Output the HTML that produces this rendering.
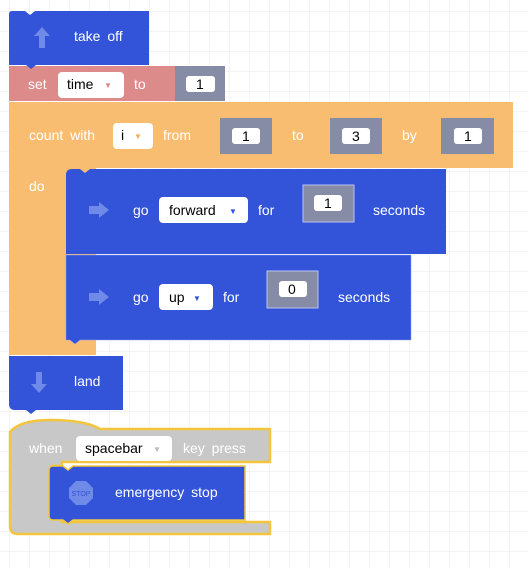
<!DOCTYPE html>
<html><head><meta charset="utf-8"><style>
body{margin:0;width:529px;height:568px;overflow:hidden;background:#fff;}
svg{display:block}
text{font-family:"Liberation Sans",sans-serif;font-size:14px;word-spacing:3px}
.w{fill:#fff}
.b{fill:#000}
.a{font-size:8px}
</style></head><body>
<svg width="529" height="568" viewBox="0 0 529 568">
<defs>
<pattern id="g" width="20" height="20" patternUnits="userSpaceOnUse" x="10" y="12">
<path d="M20 0V20M0 20H20" stroke="#e8e8e8" stroke-width="1" fill="none"/>
</pattern>
</defs>
<rect width="529" height="568" fill="url(#g)"/>

<!-- count block (orange C) -->
<path d="M9 102H513V168H96V340H96V355H9Z" fill="#f9bd72"/>
<!-- set block -->
<rect x="9" y="66" width="166" height="35" fill="#dc8a8a"/>
<rect x="175" y="66" width="50" height="35" fill="#878ca6"/>
<rect x="186" y="76" width="29" height="16" rx="3" fill="#fff"/>
<text x="196" y="89" class="b">1</text>
<text x="28" y="89" class="w">set</text>
<rect x="58" y="72" width="66" height="26" rx="4" fill="#fff"/>
<text x="67" y="89" class="b">time</text>
<text x="104" y="88" fill="#d88" class="a">▼</text>
<text x="134" y="89" class="w">to</text>

<!-- take off -->
<path d="M9 14q0-3 3-3H25l5 4l5-4H149V65H36l-5 4l-5-4H9Z" fill="#3354d8"/>
<path d="M42 27l-8 9h5v12h6V36h5Z" fill="#6f8ae8"/>
<text x="74" y="41" class="w">take off</text>

<!-- count text -->
<text x="29" y="140" class="w">count with</text>
<rect x="113" y="123" width="40" height="26" rx="4" fill="#fff"/>
<text x="121" y="140" class="b">i</text>
<text x="134" y="139" fill="#f0b060" class="a">▼</text>
<text x="163" y="140" class="w">from</text>
<text x="292" y="140" class="w">to</text>
<text x="402" y="140" class="w">by</text>
<text x="29" y="191" class="w">do</text>
<g fill="#878ca6">
<rect x="220" y="118" width="52" height="36"/><rect x="330" y="118" width="52" height="36"/><rect x="441" y="118" width="53" height="36"/>
</g>
<g fill="#fff">
<rect x="232" y="128" width="28" height="16" rx="3"/><rect x="342" y="128" width="28" height="16" rx="3"/><rect x="454" y="128" width="28" height="16" rx="3"/>
</g>
<text x="242" y="141" class="b">1</text><text x="352" y="141" class="b">3</text><text x="464" y="141" class="b">1</text>

<!-- go forward -->
<path d="M66 175q0-6 6-6H80l5 4l5-4H446V254H66Z" fill="#3354d8"/>
<path d="M89 206h10v-4l10 8-10 8v-4H89Z" fill="#6f8ae8"/>
<text x="133" y="215" class="w">go</text>
<rect x="159" y="197" width="89" height="26" rx="4" fill="#fff"/>
<text x="169" y="215" class="b">forward</text>
<text x="229" y="214" fill="#3354d8" class="a">▼</text>
<text x="258" y="215" class="w">for</text>
<rect x="303" y="185" width="51" height="37" fill="#878ca6" stroke="#b8c4f0"/>
<rect x="314" y="195" width="28" height="16" rx="3" fill="#fff"/>
<text x="324" y="208" class="b">1</text>
<text x="373" y="215" class="w">seconds</text>

<!-- go up -->
<path d="M66 255H411V340H80l-5 4-5-4h-4Z" fill="#3354d8" stroke="#8aa0ee" stroke-width="0.5"/>
<path d="M89 293h10v-4l10 8-10 8v-4H89Z" fill="#6f8ae8"/>
<text x="133" y="302" class="w">go</text>
<rect x="159" y="284" width="54" height="26" rx="4" fill="#fff"/>
<text x="169" y="302" class="b">up</text>
<text x="193" y="301" fill="#3354d8" class="a">▼</text>
<text x="223" y="302" class="w">for</text>
<rect x="267" y="271" width="51" height="37" fill="#878ca6" stroke="#b8c4f0"/>
<rect x="279" y="281" width="28" height="16" rx="3" fill="#fff"/>
<text x="288" y="294" class="b">0</text>
<text x="338" y="302" class="w">seconds</text>

<!-- land -->
<path d="M9 356H123V410H36l-5 4-5-4H15q-6 0-6-6Z" fill="#3354d8"/>
<path d="M36 372h6v12h5l-8 9-8-9h5Z" fill="#6f8ae8"/>
<text x="74" y="386" class="w">land</text>

<!-- when block -->
<path d="M10 432q10-12 40-12q35 0 50 9H270V462H62V466H52v52h10v4H270V534H18q-8 0-8-8Z" fill="#c8c8c8" stroke="#f3c53d" stroke-width="2.5"/>
<text x="29" y="453" class="w">when</text>
<rect x="76" y="436" width="96" height="25" rx="4" fill="#fff"/>
<text x="85" y="453" class="b">spacebar</text>
<text x="153" y="452" fill="#bbb" class="a">▼</text>
<text x="183" y="453" class="w">key press</text>
<path d="M49 470q0-4 4-4H63l5 4 5-4H245V520H73l-5 4-5-4H53q-4 0-4-4Z" fill="#3354d8" stroke="#f3c53d" stroke-width="1.5"/>
<path d="M76 481h10l7 7v10l-7 7H76l-7-7V488Z" fill="#6f8ae8"/>
<text x="81" y="496" fill="#3354d8" style="font-size:7px;word-spacing:0" text-anchor="middle">STOP</text>
<text x="115" y="497" class="w">emergency stop</text>
</svg>
</body></html>
